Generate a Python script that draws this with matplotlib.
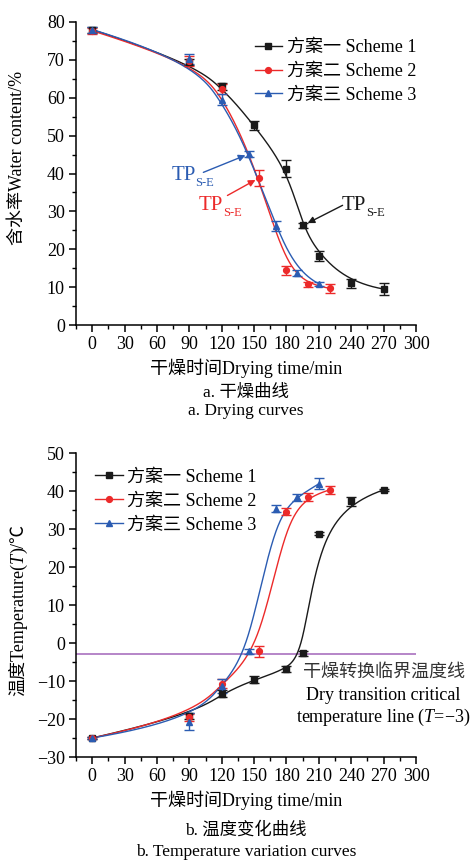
import numpy as np
import matplotlib
matplotlib.use('Agg')
import matplotlib.pyplot as plt
from matplotlib.lines import Line2D
from matplotlib.ticker import MultipleLocator

plt.rcParams['font.family'] = ['Liberation Serif', 'Noto Sans CJK SC']
plt.rcParams['mathtext.fontset'] = 'custom'
plt.rcParams['mathtext.rm'] = 'Liberation Serif'
plt.rcParams['mathtext.it'] = 'Liberation Serif:italic'
plt.rcParams['font.size'] = 13

W, H = 474, 861

# ---- drying curves (water content, %) ----
time1 = [0, 90, 120, 150, 180, 195, 210, 240, 270]
water1 = [78.0, 69.5, 63.0, 52.7, 41.3, 26.3, 18.3, 11.0, 9.5]
water1_err = [0.8, 0.8, 0.9, 1.1, 2.3, 0.6, 1.3, 1.2, 1.6]

time2 = [0, 90, 120, 155, 180, 200, 220]
water2 = [77.7, 69.6, 62.3, 38.8, 14.4, 10.7, 9.7]
water2_err = [0.8, 1.3, 1.4, 2.0, 1.1, 0.7, 1.2]

time3 = [0, 90, 120, 145, 170, 190, 210]
water3 = [78.0, 70.2, 59.5, 45.2, 26.1, 13.8, 10.9]
water3_err = [0.8, 1.3, 1.5, 0.8, 1.4, 0.8, 0.5]

# ---- temperature curves (deg C) ----
temp1 = [-25.0, -19.2, -13.3, -9.7, -6.9, -2.7, 28.7, 37.3, 40.3]
temp1_err = [0.3, 0.8, 0.9, 0.9, 0.8, 0.6, 0.4, 1.2, 0.3]
temp2 = [-25.0, -19.6, -10.7, -2.2, 34.5, 38.5, 40.3]
temp2_err = [0.3, 1.0, 1.2, 1.5, 0.9, 1.0, 1.0]
temp3 = [-25.0, -20.7, -11.4, -2.2, 35.3, 38.4, 41.9]
temp3_err = [0.3, 2.2, 1.8, 0.7, 0.9, 0.9, 1.5]

critical_temp = -3

labels = ['方案一 Scheme 1', '方案二 Scheme 2', '方案三 Scheme 3']
colors = ['#1a1a1a', '#ec2a2a', '#2b5cb2']
markers = ['s', 'o', '^']
purple = '#b07cc4'


def bspline(x, y, n=400, k=3):
    # clamped uniform B-spline with the data points as control points
    P = np.column_stack([x, y]).astype(float)
    m = len(P)
    knots = np.concatenate([[0.0] * k, np.linspace(0, 1, m - k + 1), [1.0] * k])
    u = np.linspace(0, 1, n)
    N = np.zeros((n, len(knots) - 1))
    for i in range(len(knots) - 1):
        N[:, i] = (knots[i] <= u) & (u < knots[i + 1])
    N[-1, m - 1] = 1.0
    for d in range(1, k + 1):
        newN = np.zeros((n, len(knots) - 1 - d))
        for i in range(len(knots) - 1 - d):
            a = knots[i + d] - knots[i]
            b = knots[i + d + 1] - knots[i + 1]
            left = (u - knots[i]) / a * N[:, i] if a > 0 else 0
            right = (knots[i + d + 1] - u) / b * N[:, i + 1] if b > 0 else 0
            newN[:, i] = left + right
        N = newN
    C = N @ P
    return C[:, 0], C[:, 1]


def style_axes(ax, ymin, ymax):
    ax.set_xlim(-15, 300)
    ax.set_ylim(ymin, ymax)
    ax.xaxis.set_major_locator(MultipleLocator(30))
    ax.xaxis.set_minor_locator(MultipleLocator(15))
    ax.yaxis.set_major_locator(MultipleLocator(10))
    ax.yaxis.set_minor_locator(MultipleLocator(5))
    for s in ['top', 'right']:
        ax.spines[s].set_visible(False)
    for s in ['left', 'bottom']:
        ax.spines[s].set_linewidth(1.1)
    ax.tick_params(which='major', direction='out', length=5, width=1.1, labelsize=13, pad=3)
    ax.tick_params(which='minor', direction='out', length=3, width=1.0)
    ax.set_xlabel('干燥时间Drying time/min', fontsize=13, labelpad=4)


def draw_series(ax, xs, ys, errs):
    for x, y, e, c, mk in zip(xs, ys, errs, colors, markers):
        cx, cy = bspline(x, y)
        ax.plot(cx, cy, color=c, lw=1.0, zorder=2)
        ax.errorbar(x, y, yerr=e, fmt='none', ecolor=c, elinewidth=1.0,
                    capsize=3.5, capthick=1.0, zorder=3)
        ax.plot(x, y, linestyle='none', marker=mk, color=c, markersize=4.2, zorder=4)


def legend_handles():
    return [Line2D([], [], color=c, marker=mk, markersize=4.2, lw=1.0)
            for c, mk in zip(colors, markers)]


def rotated_label(fig, x_px, yc_px, pieces, size=13):
    texts = []
    for s, st in pieces:
        texts.append(fig.text(0, 0, s, rotation=90, rotation_mode='anchor',
                              ha='left', va='baseline', fontsize=size, fontstyle=st))
    fig.canvas.draw()
    r = fig.canvas.get_renderer()
    lens = [t.get_window_extent(r).height for t in texts]
    y = (H - yc_px) - sum(lens) / 2
    for t, L in zip(texts, lens):
        t.set_position((x_px / W, y / H))
        y += L


fig = plt.figure(figsize=(W / 100, H / 100), dpi=100)
ax1 = fig.add_axes([76 / W, 1 - 325 / H, 340 / W, 303 / H])
ax2 = fig.add_axes([76 / W, 1 - 757 / H, 340 / W, 304 / H])

# ---- panel a ----
style_axes(ax1, 0, 80)
draw_series(ax1, [time1, time2, time3], [water1, water2, water3],
            [water1_err, water2_err, water3_err])
ax1.legend(legend_handles(), labels, loc='upper left', bbox_to_anchor=(0.525, 0.944),
           frameon=False, fontsize=13, handlelength=1.55, handletextpad=0.25,
           labelspacing=0.38, borderpad=0, borderaxespad=0)

# TP_S-E annotations: (text position, arrow tail, arrow head)
tp_notes = [((84.5, 39.6), (103, 40.3), (142, 44.8), colors[2]),
            ((109.6, 31.6), (125.3, 34.2), (151.3, 38.3), colors[1]),
            ((242.3, 31.6), (232, 31.6), (199.6, 26.9), colors[0])]
for pos, tail, head, c in tp_notes:
    t = ax1.text(pos[0], pos[1], 'TP', color=c, fontsize=15, ha='center', va='center')
    ax1.annotate('S-E', xy=(1.0, 0.1), xycoords=t, ha='left', va='center',
                 fontsize=9, color=c)
    ax1.annotate('', xy=head, xytext=tail,
                 arrowprops=dict(arrowstyle='-|>', color=c, lw=1.0, mutation_scale=10,
                                 shrinkA=0, shrinkB=0))

# ---- panel b ----
style_axes(ax2, -30, 50)
ax2.axhline(critical_temp, color=purple, lw=1.3, zorder=1)
draw_series(ax2, [time1, time2, time3], [temp1, temp2, temp3],
            [temp1_err, temp2_err, temp3_err])
ax2.legend(legend_handles(), labels, loc='upper left', bbox_to_anchor=(0.055, 0.948),
           frameon=False, fontsize=13, handlelength=1.55, handletextpad=0.25,
           labelspacing=0.38, borderpad=0, borderaxespad=0)
ax2.text(270, -7.7, '干燥转换临界温度线', ha='center', va='center', fontsize=13, color='#333333')
ax2.text(270, -13.7, 'Dry transition critical', ha='center', va='center', fontsize=13)
ax2.text(270, -19.5, 'temperature line ($T$=−3)', ha='center', va='center', fontsize=13)

# captions
fig.text(246 / W, 1 - 393 / H, 'a. 干燥曲线', ha='center', va='center', fontsize=12.5)
fig.text(246 / W, 1 - 411 / H, 'a. Drying curves', ha='center', va='center', fontsize=12.5)
fig.text(246 / W, 1 - 830 / H, 'b. 温度变化曲线', ha='center', va='center', fontsize=12.5)
fig.text(246 / W, 1 - 852 / H, 'b. Temperature variation curves', ha='center', va='center', fontsize=12.5)

rotated_label(fig, 22, 158, [('含水率Water content/%', 'normal')])
rotated_label(fig, 23, 610, [('温度Temperature(', 'normal'), ('T', 'italic'), (')/℃', 'normal')])

fig.savefig('out.png', dpi=100)
